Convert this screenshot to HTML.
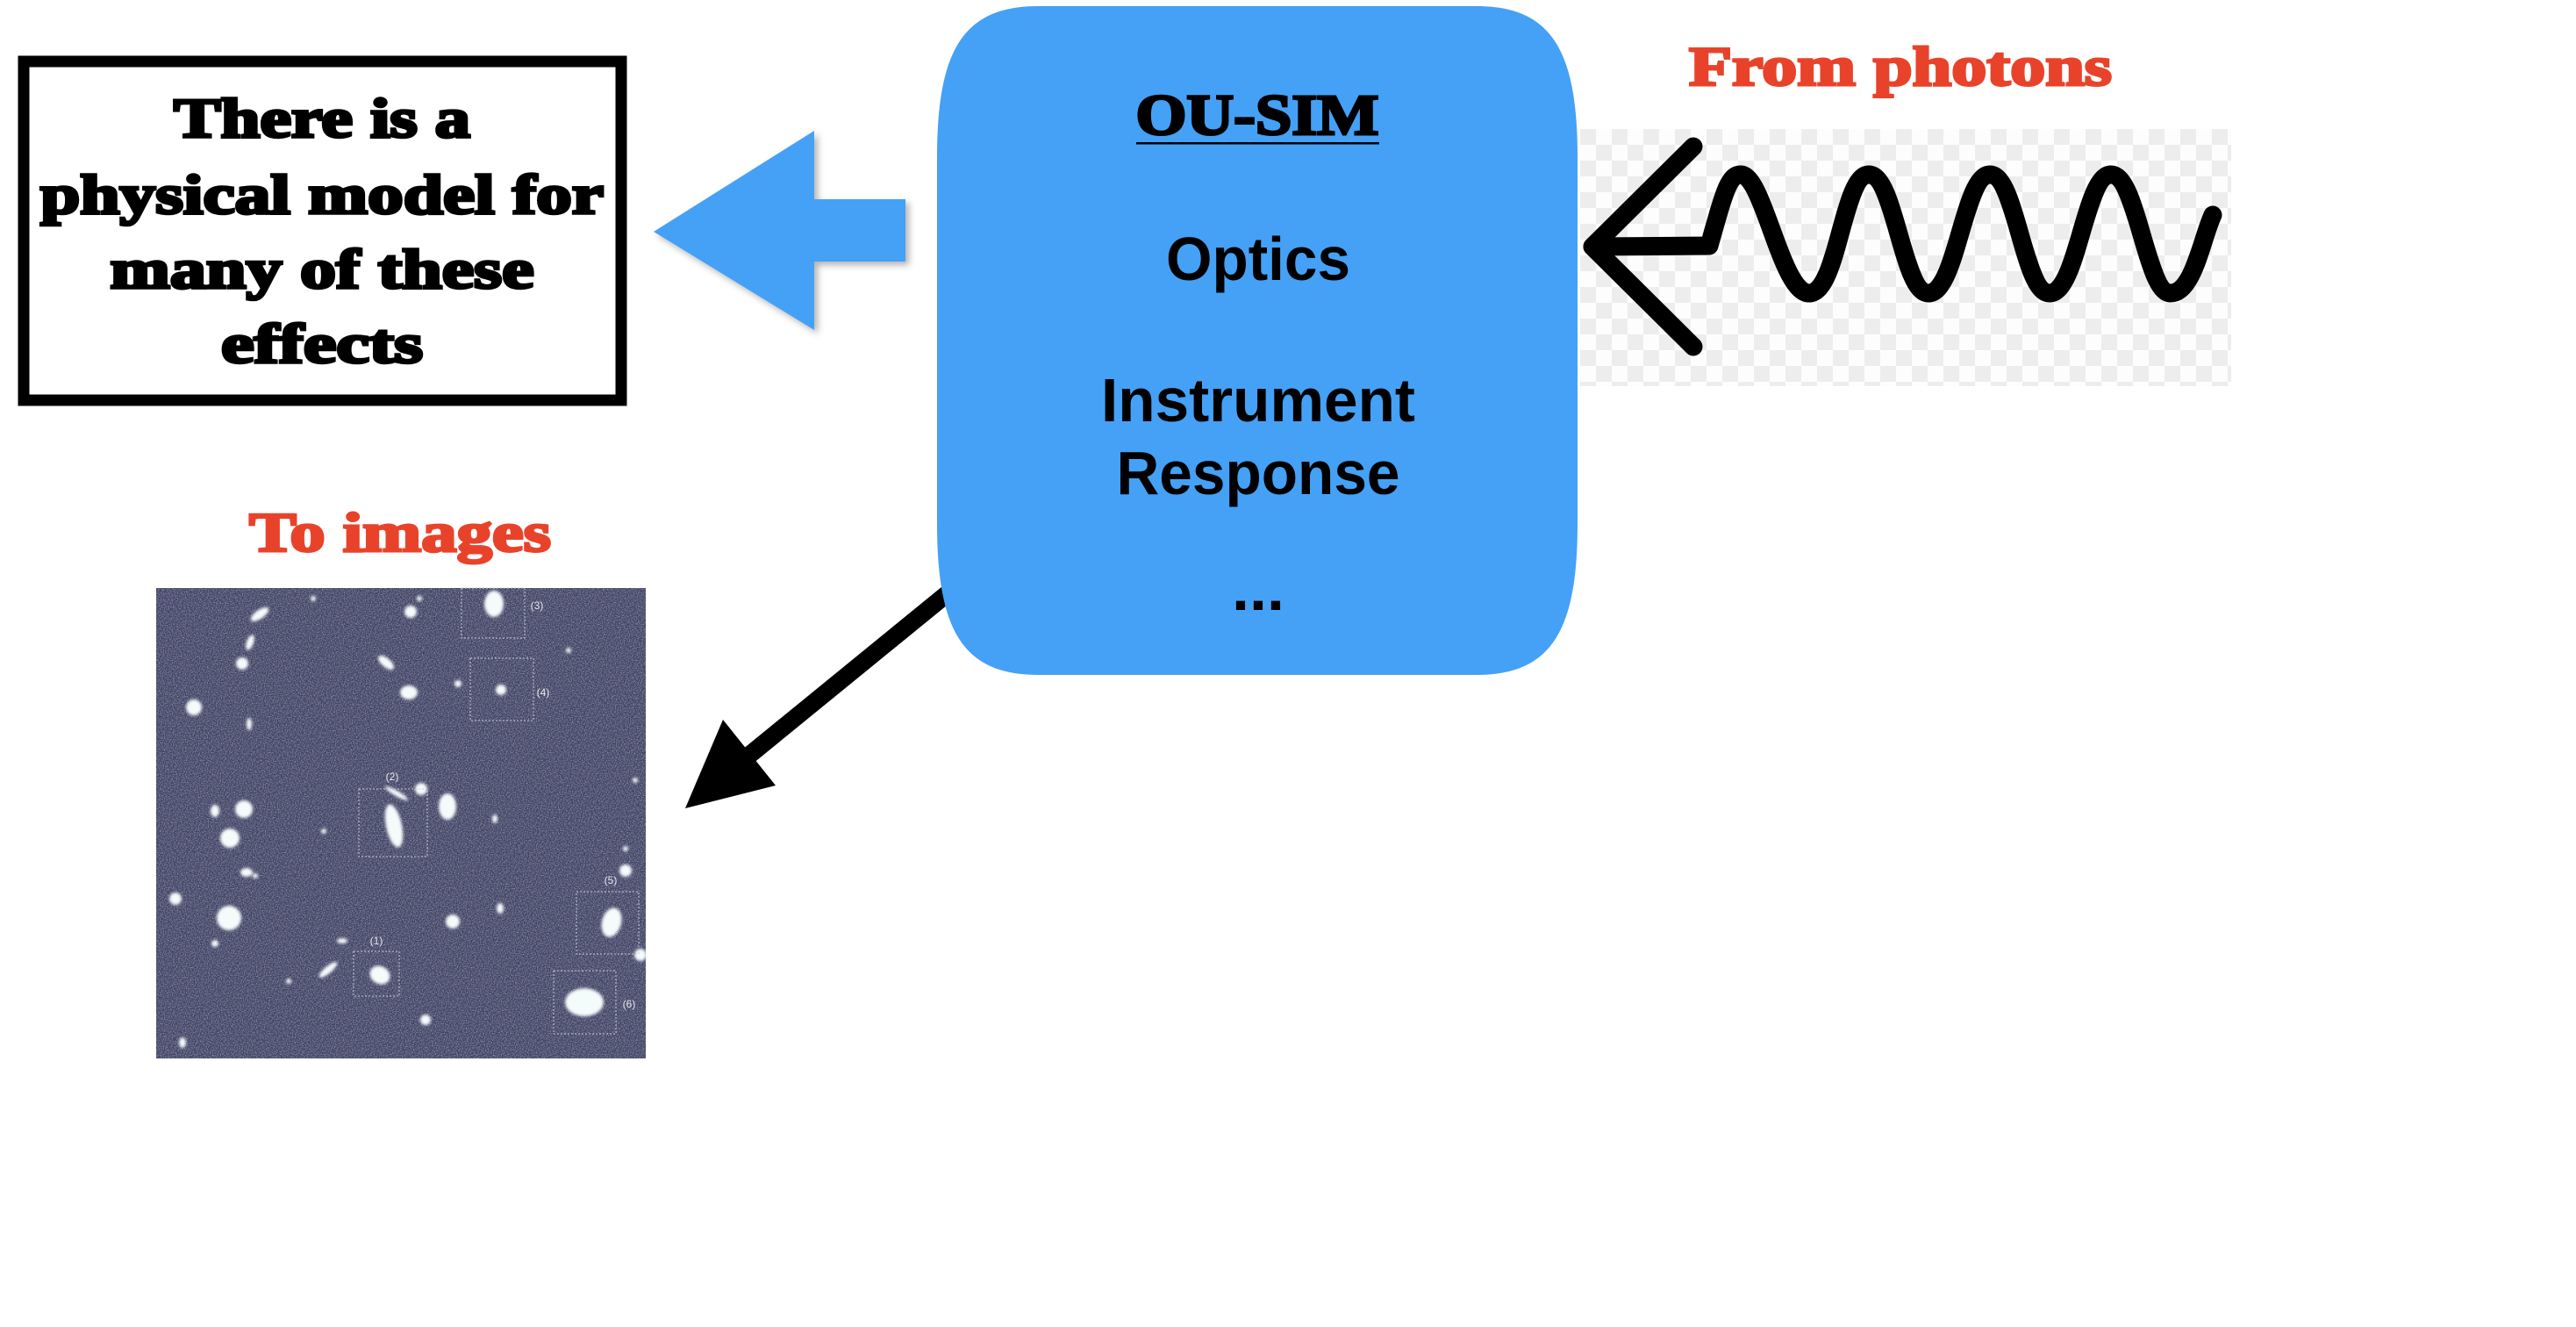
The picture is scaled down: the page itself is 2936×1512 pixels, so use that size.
<!DOCTYPE html>
<html><head><meta charset="utf-8"><style>
html,body{margin:0;padding:0;background:#fff;}
svg{display:block;}
</style></head><body>
<svg width="2936" height="1512" viewBox="0 0 2936 1512" xmlns="http://www.w3.org/2000/svg">
<defs>
<pattern id="chk" x="1801" y="147" width="36" height="36" patternUnits="userSpaceOnUse">
<rect width="36" height="36" fill="#fdfdfd"/>
<rect width="18" height="18" fill="#ededed"/>
<rect x="18" y="18" width="18" height="18" fill="#ededed"/>
</pattern>
<filter id="noise" x="0" y="0" width="100%" height="100%">
<feTurbulence type="fractalNoise" baseFrequency="0.8" numOctaves="2" seed="3"/>
<feColorMatrix type="matrix" values="0 0 0 0 0.62  0 0 0 0 0.64  0 0 0 0 0.8  1.4 0 0 0 -0.55"/>
</filter>
<filter id="glow" x="-50%" y="-50%" width="200%" height="200%"><feGaussianBlur stdDeviation="1.6"/></filter>
<filter id="sh" x="-10%" y="-10%" width="130%" height="130%"><feDropShadow dx="4" dy="4" stdDeviation="4" flood-color="#000" flood-opacity="0.3"/></filter>
</defs>

<rect x="1801" y="147" width="742" height="293" fill="url(#chk)"/>
<g fill="none" stroke="#000" stroke-width="21" stroke-linecap="round" stroke-linejoin="round">
<polyline points="1930,167 1815,281 1930,395"/>
<path d="M1815,281 L1948,280 C1965,220 1970,199 1984,199 C2010,199 2030,334 2062,334 C2095,334 2100,199 2130,199 C2160,199 2168,334 2198,334 C2230,334 2238,199 2268,199 C2298,199 2306,334 2336,334 C2368,334 2376,199 2406,199 C2436,199 2446,334 2474,334 C2500,334 2510,270 2522,245"/>
</g>

<line x1="1090" y1="668" x2="830" y2="880" stroke="#000" stroke-width="20"/>
<polygon points="781,921 824,820 884,895" fill="#000"/>

<path d="M1183,7 L1683,7 C1770,7 1798,60 1798,180 L1798,596 C1798,716 1770,769 1683,769 L1183,769 C1096,769 1068,716 1068,596 L1068,180 C1068,60 1096,7 1183,7 Z" fill="#44a1f6"/>
<text x="1433" y="153" font-family="Liberation Serif" font-weight="bold" font-size="66" text-anchor="middle" textLength="277" lengthAdjust="spacingAndGlyphs" stroke="#000" stroke-width="3">OU-SIM</text>
<rect x="1295" y="162" width="277" height="2.5" fill="#000"/>
<g font-family="Liberation Sans" font-weight="bold" font-size="70" text-anchor="middle">
<text x="1434" y="319" textLength="210" lengthAdjust="spacingAndGlyphs">Optics</text>
<text x="1434" y="480" textLength="358" lengthAdjust="spacingAndGlyphs">Instrument</text>
<text x="1434" y="563" textLength="323" lengthAdjust="spacingAndGlyphs">Response</text>
<text x="1434" y="695" textLength="60" lengthAdjust="spacingAndGlyphs">...</text>
</g>

<polygon points="745,264 928,149 928,227 1032,227 1032,298 928,298 928,376" fill="#44a1f6" filter="url(#sh)"/>

<rect x="27" y="70" width="681" height="386" fill="#fff" stroke="#000" stroke-width="13"/>
<g font-family="Liberation Serif" font-weight="bold" font-size="64" text-anchor="middle" stroke="#000" stroke-width="3.5">
<text x="367" y="156" textLength="338" lengthAdjust="spacingAndGlyphs">There is a</text>
<text x="367" y="243" textLength="642" lengthAdjust="spacingAndGlyphs">physical model for</text>
<text x="367" y="328" textLength="483" lengthAdjust="spacingAndGlyphs">many of these</text>
<text x="367" y="413" textLength="230" lengthAdjust="spacingAndGlyphs">effects</text>
</g>

<g font-family="Liberation Serif" font-weight="bold" font-size="64" fill="#e8432a" stroke="#e8432a" stroke-width="3">
<text x="1925" y="97" textLength="482" lengthAdjust="spacingAndGlyphs">From photons</text>
<text x="284" y="628" textLength="344" lengthAdjust="spacingAndGlyphs">To images</text>
</g>

<rect x="178" y="670" width="558" height="536" fill="#3e4160"/>
<rect x="178" y="670" width="558" height="536" filter="url(#noise)"/>
<g fill="#f4fbfb" filter="url(#glow)">
<ellipse cx="563" cy="688" rx="11" ry="15"/>
<circle cx="468" cy="697" r="7"/>
<ellipse cx="296" cy="700" rx="12" ry="5" transform="rotate(-35 296 700)"/>
<ellipse cx="285" cy="732" rx="4" ry="9" transform="rotate(20 285 732)"/>
<circle cx="276" cy="756" r="7"/>
<ellipse cx="440" cy="755" rx="11" ry="5" transform="rotate(40 440 755)"/>
<ellipse cx="466" cy="789" rx="10" ry="8"/>
<circle cx="522" cy="779" r="4"/>
<circle cx="571" cy="786" r="6"/>
<circle cx="221" cy="806" r="9"/>
<ellipse cx="284" cy="825" rx="3" ry="7"/>
<circle cx="480" cy="899" r="7"/>
<ellipse cx="452" cy="904" rx="15" ry="3" transform="rotate(30 452 904)"/>
<ellipse cx="449" cy="941" rx="9" ry="25" transform="rotate(-12 449 941)"/>
<ellipse cx="510" cy="919" rx="10" ry="15"/>
<ellipse cx="564" cy="933" rx="3" ry="5"/>
<circle cx="369" cy="947" r="3"/>
<ellipse cx="245" cy="924" rx="5" ry="7"/>
<circle cx="278" cy="922" r="10"/>
<circle cx="262" cy="955" r="11"/>
<ellipse cx="281" cy="994" rx="7" ry="5"/>
<circle cx="291" cy="998" r="3"/>
<circle cx="200" cy="1024" r="7"/>
<circle cx="261" cy="1046" r="14"/>
<circle cx="245" cy="1075" r="4"/>
<ellipse cx="390" cy="1072" rx="6" ry="3"/>
<ellipse cx="374" cy="1105" rx="13" ry="4" transform="rotate(-40 374 1105)"/>
<ellipse cx="433" cy="1111" rx="12" ry="10" transform="rotate(30 433 1111)"/>
<circle cx="516" cy="1050" r="8"/>
<ellipse cx="570" cy="1035" rx="4" ry="6"/>
<circle cx="713" cy="992" r="7"/>
<ellipse cx="697" cy="1051" rx="11" ry="17" transform="rotate(15 697 1051)"/>
<circle cx="730" cy="1088" r="7"/>
<ellipse cx="666" cy="1142" rx="22" ry="16"/>
<circle cx="713" cy="967" r="3"/>
<circle cx="485" cy="1162" r="6"/>
<ellipse cx="208" cy="1188" rx="4" ry="6"/>
<circle cx="329" cy="1118" r="3"/>
<circle cx="724" cy="889" r="3"/>
<circle cx="648" cy="741" r="3"/>
<circle cx="357" cy="682" r="3"/>
<circle cx="478" cy="682" r="3"/>
</g>
<g fill="none" stroke="#c8cad4" stroke-width="1" stroke-dasharray="2,2">
<rect x="526" y="670" width="72" height="57"/>
<rect x="536" y="750" width="72" height="71"/>
<rect x="409" y="899" width="78" height="77"/>
<rect x="403" y="1084" width="52" height="51"/>
<rect x="657" y="1016" width="71" height="71"/>
<rect x="631" y="1106" width="71" height="72"/>
</g>
<g font-family="Liberation Sans" font-size="12" fill="#e6e8ee" text-anchor="middle">
<text x="612" y="694">(3)</text>
<text x="619" y="793">(4)</text>
<text x="447" y="889">(2)</text>
<text x="429" y="1076">(1)</text>
<text x="696" y="1007">(5)</text>
<text x="717" y="1148">(6)</text>
</g>
</svg>
</body></html>
